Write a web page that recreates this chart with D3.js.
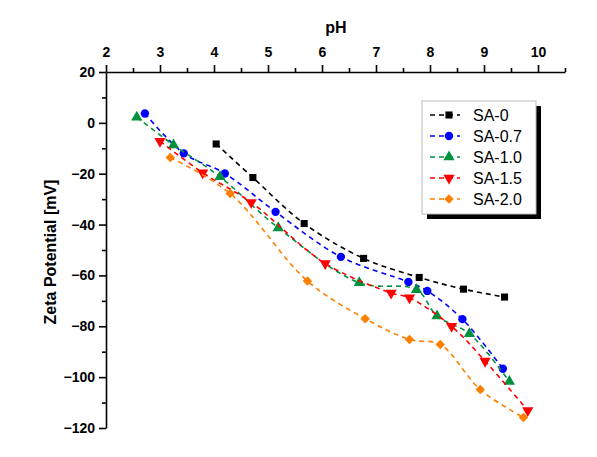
<!DOCTYPE html>
<html>
<head>
<meta charset="utf-8">
<script src="https://cdn.jsdelivr.net/npm/d3@7"></script>
<style>
  body { margin: 0; background: #fff; }
  svg text { font-family: "Liberation Sans", Arial, sans-serif; }
  .axis path, .axis line { stroke: #000; stroke-width: 1.6; }
  .axis text { font-size: 14px; font-weight: bold; fill: #000; }
</style>
</head>
<body>
<script>
// series data (pH, zeta potential in mV)
var names = ["SA-0", "SA-0.7", "SA-1.0", "SA-1.5", "SA-2.0"];
var colors = ["#000000", "#0000ff", "#00913f", "#ff0000", "#ff8000"];
var shapes = ["square", "circle", "triangle", "triangleDown", "diamond"];

var ph0  = [4.04, 4.72, 5.67, 6.77, 7.80, 8.62, 9.38];
var zp0  = [-8.3, -21.5, -39.6, -53.3, -60.8, -65.4, -68.5];
var ph07 = [2.72, 3.44, 4.20, 5.14, 6.35, 7.60, 7.95, 8.60, 9.35];
var zp07 = [3.7, -12.0, -19.9, -35.0, -52.7, -62.6, -66.1, -77.2, -96.7];
var ph10 = [2.57, 3.25, 4.11, 5.19, 6.69, 7.75, 8.13, 8.73, 9.47];
var zp10 = [2.2, -8.7, -21.2, -41.3, -62.9, -65.6, -76.0, -82.9, -101.7];
var ph15 = [3.00, 3.79, 4.69, 6.06, 7.28, 7.62, 8.40, 9.02, 9.81];
var zp15 = [-7.2, -19.6, -31.3, -55.3, -66.9, -68.8, -80.0, -93.7, -113.1];
var ph20 = [3.19, 4.30, 5.73, 6.80, 7.62, 8.19, 8.93, 9.73];
var zp20 = [-13.6, -27.8, -62.2, -77.0, -85.2, -87.2, -104.9, -115.9];

var xTicks = [2, 3, 4, 5, 6, 7, 8, 9, 10];
var yTicks = [20, 0, -20, -40, -60, -80, -100, -120];

var series = [[ph0, zp0], [ph07, zp07], [ph10, zp10], [ph15, zp15], [ph20, zp20]].map(function(s, i) {
  return {
    name: names[i], color: colors[i], shape: shapes[i],
    values: s[0].map(function(p, j) { return {x: p, y: s[1][j]}; })
  };
});

var W = 597, H = 457;
var x = d3.scaleLinear().domain([2, 10.5]).range([106, 565]);
var y = d3.scaleLinear().domain([-120, 20]).range([428, 72]);

var svg = d3.select("body").append("svg")
  .attr("width", W).attr("height", H);

// top x axis with minor ticks
var xMinor = d3.range(2.5, 10.6, 1);
svg.append("g").attr("class", "axis")
  .attr("transform", "translate(0," + y(20) + ")")
  .call(d3.axisTop(x).tickValues(xMinor).tickSize(4).tickFormat(""))
  .select(".domain").remove();
svg.append("g").attr("class", "axis")
  .attr("transform", "translate(0," + y(20) + ")")
  .call(d3.axisTop(x).tickValues(xTicks).tickSize(7).tickSizeOuter(0).tickPadding(8).tickFormat(d3.format("d")));

// left y axis with minor ticks
var yMinor = d3.range(-110, 20, 20);
svg.append("g").attr("class", "axis")
  .attr("transform", "translate(" + x(2) + ",0)")
  .call(d3.axisLeft(y).tickValues(yMinor).tickSize(4).tickFormat(""))
  .select(".domain").remove();
svg.append("g").attr("class", "axis")
  .attr("transform", "translate(" + x(2) + ",0)")
  .call(d3.axisLeft(y).tickValues(yTicks).tickSize(7).tickSizeOuter(0).tickPadding(4).tickFormat(d3.format("d")));

// axis titles
svg.append("text")
  .attr("x", 336).attr("y", 33)
  .attr("text-anchor", "middle")
  .style("font-size", "16px").style("font-weight", "bold")
  .text("pH");
svg.append("text")
  .attr("transform", "translate(56,252) rotate(-90)")
  .attr("text-anchor", "middle")
  .style("font-size", "16px").style("font-weight", "bold")
  .text("Zeta Potential [mV]");

var line = d3.line()
  .x(function(d) { return x(d.x); })
  .y(function(d) { return y(d.y); })
  .curve(d3.curveCatmullRom.alpha(0.5));

var symbolFor = {
  square: d3.symbolSquare, circle: d3.symbolCircle, triangle: d3.symbolTriangle,
  triangleDown: d3.symbolTriangle, diamond: d3.symbolSquare
};
var sizeFor = { square: 50, circle: 55, triangle: 55, triangleDown: 55, diamond: 45 };
var rotFor = { triangleDown: 180, diamond: 45 };

function marker(sel, shape, color) {
  sel.attr("d", d3.symbol().type(symbolFor[shape]).size(sizeFor[shape])())
    .attr("fill", color);
}
function rot(shape) {
  return rotFor[shape] ? " rotate(" + rotFor[shape] + ")" : "";
}

series.forEach(function(s) {
  svg.append("path")
    .datum(s.values)
    .attr("fill", "none")
    .attr("stroke", s.color)
    .attr("stroke-width", 1.6)
    .attr("stroke-dasharray", "5,4")
    .attr("d", line);

  svg.selectAll(null)
    .data(s.values)
    .enter().append("path")
    .attr("transform", function(d) {
      return "translate(" + x(d.x) + "," + y(d.y) + ")" + rot(s.shape);
    })
    .call(marker, s.shape, s.color);
});

// legend
var lg = svg.append("g").attr("transform", "translate(422,101)");
lg.append("rect").attr("x", 5).attr("y", 5).attr("width", 114).attr("height", 113).attr("fill", "#000");
lg.append("rect").attr("x", 0).attr("y", 0).attr("width", 114).attr("height", 113)
  .attr("fill", "#fff").attr("stroke", "#bbb").attr("stroke-width", 1);

var item = lg.selectAll(".legend")
  .data(series)
  .enter().append("g")
  .attr("class", "legend")
  .attr("transform", function(d, i) { return "translate(0," + (14 + i * 21) + ")"; });

item.append("line")
  .attr("x1", 8).attr("x2", 38)
  .attr("stroke", function(d) { return d.color; })
  .attr("stroke-width", 1.6)
  .attr("stroke-dasharray", "5,4");
item.append("path")
  .attr("transform", function(d) { return "translate(27,0)" + rot(d.shape); })
  .each(function(d) { d3.select(this).call(marker, d.shape, d.color); });
item.append("text")
  .attr("x", 51).attr("dy", "0.36em")
  .style("font-size", "16px")
  .text(function(d) { return d.name; });
</script>
</body>
</html>
